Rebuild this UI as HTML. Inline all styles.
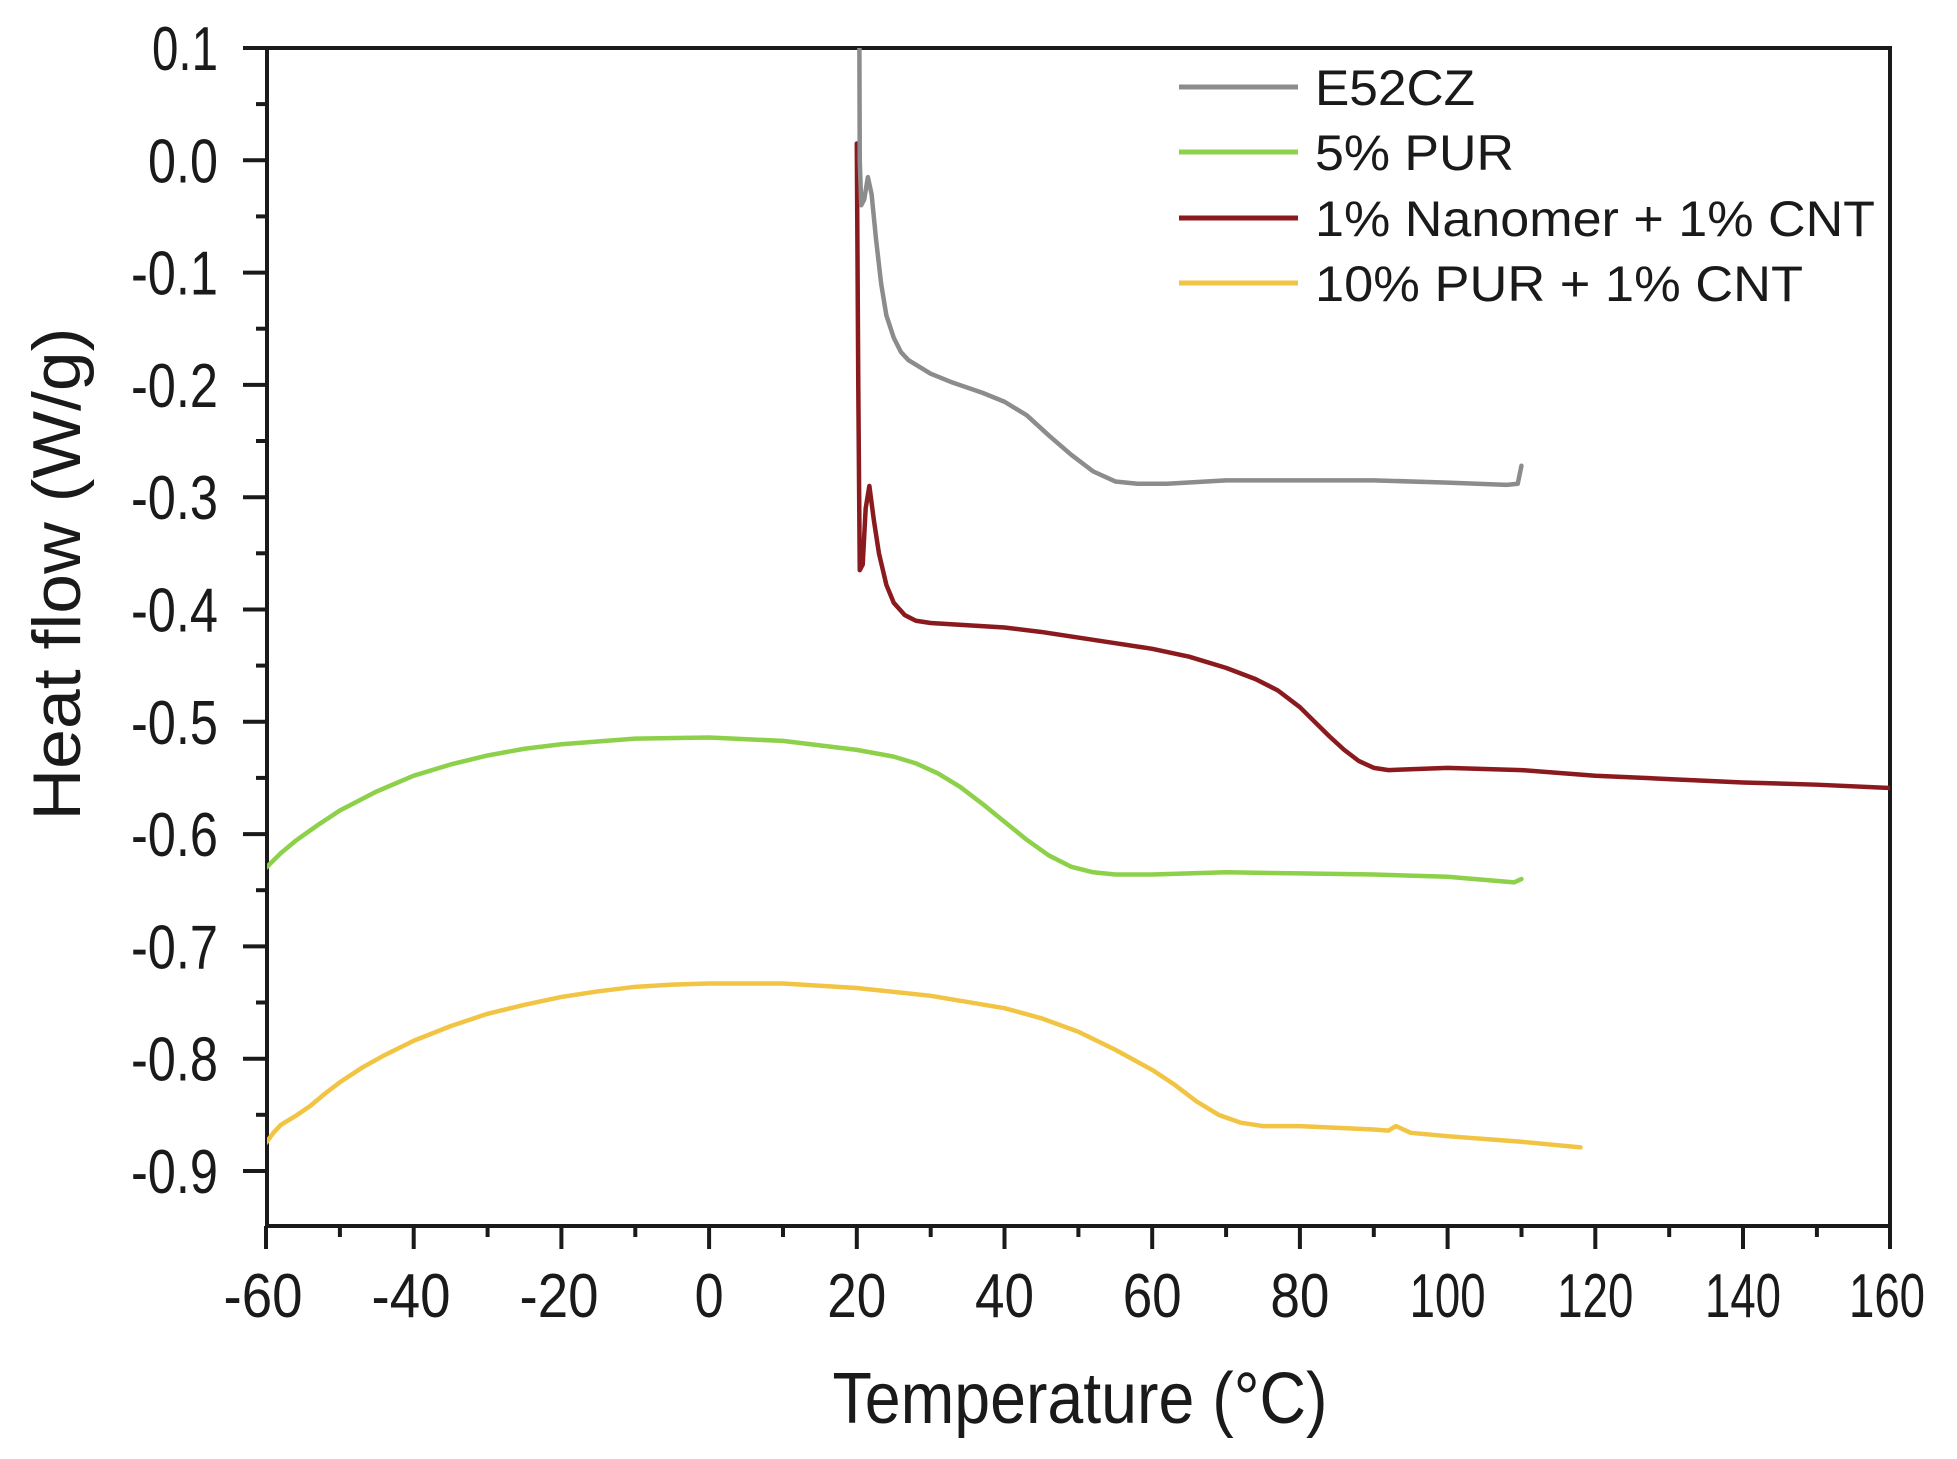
<!DOCTYPE html>
<html><head><meta charset="utf-8"><style>
html,body{margin:0;padding:0;background:#fff;}
svg{display:block;}
text{font-family:"Liberation Sans",Arial,sans-serif;fill:#1a1a1a;}
</style></head><body>
<svg width="1957" height="1459" viewBox="0 0 1957 1459" xmlns="http://www.w3.org/2000/svg">
<defs><clipPath id="pc"><rect x="267" y="48" width="1623" height="1178"/></clipPath></defs>
<rect x="267" y="48" width="1623" height="1178" fill="none" stroke="#1a1a1a" stroke-width="4"/>
<g stroke="#1a1a1a" stroke-width="4">
<line x1="243" y1="48" x2="267" y2="48"/><line x1="243" y1="160.3" x2="267" y2="160.3"/><line x1="243" y1="272.6" x2="267" y2="272.6"/><line x1="243" y1="384.9" x2="267" y2="384.9"/><line x1="243" y1="497.2" x2="267" y2="497.2"/><line x1="243" y1="609.5" x2="267" y2="609.5"/><line x1="243" y1="721.8" x2="267" y2="721.8"/><line x1="243" y1="834.1" x2="267" y2="834.1"/><line x1="243" y1="946.4" x2="267" y2="946.4"/><line x1="243" y1="1058.7" x2="267" y2="1058.7"/><line x1="243" y1="1171" x2="267" y2="1171"/>
<line x1="256" y1="104.1" x2="267" y2="104.1"/><line x1="256" y1="216.4" x2="267" y2="216.4"/><line x1="256" y1="328.7" x2="267" y2="328.7"/><line x1="256" y1="441" x2="267" y2="441"/><line x1="256" y1="553.3" x2="267" y2="553.3"/><line x1="256" y1="665.6" x2="267" y2="665.6"/><line x1="256" y1="777.9" x2="267" y2="777.9"/><line x1="256" y1="890.2" x2="267" y2="890.2"/><line x1="256" y1="1002.5" x2="267" y2="1002.5"/><line x1="256" y1="1114.8" x2="267" y2="1114.8"/>
<line x1="266" y1="1226" x2="266" y2="1249"/><line x1="413.7" y1="1226" x2="413.7" y2="1249"/><line x1="561.4" y1="1226" x2="561.4" y2="1249"/><line x1="709.1" y1="1226" x2="709.1" y2="1249"/><line x1="856.8" y1="1226" x2="856.8" y2="1249"/><line x1="1004.5" y1="1226" x2="1004.5" y2="1249"/><line x1="1152.2" y1="1226" x2="1152.2" y2="1249"/><line x1="1299.9" y1="1226" x2="1299.9" y2="1249"/><line x1="1447.6" y1="1226" x2="1447.6" y2="1249"/><line x1="1595.3" y1="1226" x2="1595.3" y2="1249"/><line x1="1743" y1="1226" x2="1743" y2="1249"/><line x1="1890" y1="1226" x2="1890" y2="1249"/>
<line x1="339.9" y1="1226" x2="339.9" y2="1237"/><line x1="487.6" y1="1226" x2="487.6" y2="1237"/><line x1="635.3" y1="1226" x2="635.3" y2="1237"/><line x1="783" y1="1226" x2="783" y2="1237"/><line x1="930.7" y1="1226" x2="930.7" y2="1237"/><line x1="1078.4" y1="1226" x2="1078.4" y2="1237"/><line x1="1226.1" y1="1226" x2="1226.1" y2="1237"/><line x1="1373.8" y1="1226" x2="1373.8" y2="1237"/><line x1="1521.5" y1="1226" x2="1521.5" y2="1237"/><line x1="1669.2" y1="1226" x2="1669.2" y2="1237"/><line x1="1816.9" y1="1226" x2="1816.9" y2="1237"/>
</g>
<g font-size="62" text-anchor="end">
<text x="218" y="70" textLength="66" lengthAdjust="spacingAndGlyphs">0.1</text>
<text x="218" y="182.3" textLength="70" lengthAdjust="spacingAndGlyphs">0.0</text>
<text x="218" y="294.6" textLength="87" lengthAdjust="spacingAndGlyphs">-0.1</text>
<text x="218" y="406.9" textLength="87" lengthAdjust="spacingAndGlyphs">-0.2</text>
<text x="218" y="519.2" textLength="87" lengthAdjust="spacingAndGlyphs">-0.3</text>
<text x="218" y="631.5" textLength="87" lengthAdjust="spacingAndGlyphs">-0.4</text>
<text x="218" y="743.8" textLength="87" lengthAdjust="spacingAndGlyphs">-0.5</text>
<text x="218" y="856.1" textLength="87" lengthAdjust="spacingAndGlyphs">-0.6</text>
<text x="218" y="968.4" textLength="87" lengthAdjust="spacingAndGlyphs">-0.7</text>
<text x="218" y="1080.7" textLength="87" lengthAdjust="spacingAndGlyphs">-0.8</text>
<text x="218" y="1193" textLength="87" lengthAdjust="spacingAndGlyphs">-0.9</text>
</g>
<g font-size="62" text-anchor="middle">
<text x="263" y="1317" textLength="79" lengthAdjust="spacingAndGlyphs">-60</text>
<text x="411" y="1317" textLength="79" lengthAdjust="spacingAndGlyphs">-40</text>
<text x="559" y="1317" textLength="79" lengthAdjust="spacingAndGlyphs">-20</text>
<text x="709.1" y="1317" textLength="29" lengthAdjust="spacingAndGlyphs">0</text>
<text x="856.8" y="1317" textLength="59" lengthAdjust="spacingAndGlyphs">20</text>
<text x="1004.5" y="1317" textLength="59" lengthAdjust="spacingAndGlyphs">40</text>
<text x="1152.2" y="1317" textLength="59" lengthAdjust="spacingAndGlyphs">60</text>
<text x="1299.9" y="1317" textLength="59" lengthAdjust="spacingAndGlyphs">80</text>
<text x="1447.6" y="1317" textLength="76" lengthAdjust="spacingAndGlyphs">100</text>
<text x="1595.3" y="1317" textLength="76" lengthAdjust="spacingAndGlyphs">120</text>
<text x="1743" y="1317" textLength="76" lengthAdjust="spacingAndGlyphs">140</text>
<text x="1887" y="1317" textLength="76" lengthAdjust="spacingAndGlyphs">160</text>
</g>
<text x="1080" y="1423" font-size="72" text-anchor="middle" textLength="495" lengthAdjust="spacingAndGlyphs">Temperature (°C)</text>
<text transform="translate(80,574) rotate(-90)" font-size="68" text-anchor="middle" textLength="493" lengthAdjust="spacingAndGlyphs">Heat flow (W/g)</text>
<g clip-path="url(#pc)" fill="none" stroke-width="4.5" stroke-linejoin="round" stroke-linecap="round">
<g transform="translate(709.1,160.3) scale(7.385,-1123)">
<polyline vector-effect="non-scaling-stroke" stroke="#f2c443" points="-60,-0.875 -59,-0.866 -58,-0.859 -56,-0.851 -54,-0.842 -52,-0.831 -50,-0.821 -47,-0.808 -44,-0.797 -40,-0.784 -35,-0.771 -30,-0.76 -25,-0.752 -20,-0.745 -15,-0.740 -10,-0.736 -5,-0.734 0,-0.733 10,-0.733 20,-0.737 30,-0.744 40,-0.755 45,-0.764 50,-0.776 55,-0.792 60,-0.81 63,-0.823 66,-0.838 69,-0.850 72,-0.857 75,-0.860 80,-0.86 90,-0.863 92,-0.864 93,-0.86 95,-0.866 100,-0.869 110,-0.874 118,-0.879"/>
<polyline vector-effect="non-scaling-stroke" stroke="#8dd04a" points="-60,-0.63 -58,-0.617 -56,-0.606 -53,-0.592 -50,-0.579 -45,-0.562 -40,-0.548 -35,-0.538 -30,-0.53 -25,-0.524 -20,-0.52 -10,-0.515 0,-0.514 10,-0.517 20,-0.525 25,-0.531 28,-0.537 31,-0.546 34,-0.558 37,-0.573 40,-0.589 43,-0.605 46,-0.619 49,-0.629 52,-0.634 55,-0.636 60,-0.636 70,-0.634 80,-0.635 90,-0.636 100,-0.638 109,-0.643 110,-0.64"/>
<polyline vector-effect="non-scaling-stroke" stroke="#8b1a1e" points="20,0.015 20.2,-0.2 20.4,-0.365 20.8,-0.36 21.2,-0.31 21.7,-0.29 22.3,-0.32 23,-0.35 24,-0.378 25,-0.394 26.5,-0.405 28,-0.41 30,-0.412 35,-0.414 40,-0.416 45,-0.42 50,-0.425 55,-0.43 60,-0.435 65,-0.442 70,-0.452 74,-0.462 77,-0.472 80,-0.487 82,-0.5 84,-0.513 86,-0.525 88,-0.535 90,-0.541 92,-0.543 100,-0.541 110,-0.543 120,-0.548 130,-0.551 140,-0.554 150,-0.556 160,-0.559"/>
<polyline vector-effect="non-scaling-stroke" stroke="#8c8c8c" points="20.3,0.2 20.4,0.0 20.6,-0.04 21,-0.035 21.5,-0.015 22,-0.03 22.6,-0.07 23.3,-0.11 24,-0.138 25,-0.158 26,-0.171 27,-0.178 30,-0.19 33,-0.198 37,-0.207 40,-0.215 43,-0.227 46,-0.245 49,-0.262 52,-0.277 55,-0.286 58,-0.288 62,-0.288 70,-0.285 80,-0.285 90,-0.285 100,-0.287 108,-0.289 109.5,-0.288 110,-0.272"/>
</g>
</g>
<g stroke-width="5">
<line x1="1179" y1="87" x2="1298" y2="87" stroke="#8c8c8c"/>
<line x1="1179" y1="152" x2="1298" y2="152" stroke="#8dd04a"/>
<line x1="1179" y1="218" x2="1298" y2="218" stroke="#8b1a1e"/>
<line x1="1179" y1="283" x2="1298" y2="283" stroke="#f2c443"/>
</g>
<g font-size="50">
<text x="1315" y="105" textLength="160" lengthAdjust="spacingAndGlyphs">E52CZ</text>
<text x="1315" y="170" textLength="199" lengthAdjust="spacingAndGlyphs">5% PUR</text>
<text x="1315" y="236" textLength="560" lengthAdjust="spacingAndGlyphs">1% Nanomer + 1% CNT</text>
<text x="1315" y="301" textLength="488" lengthAdjust="spacingAndGlyphs">10% PUR + 1% CNT</text>
</g>
</svg>
</body></html>
